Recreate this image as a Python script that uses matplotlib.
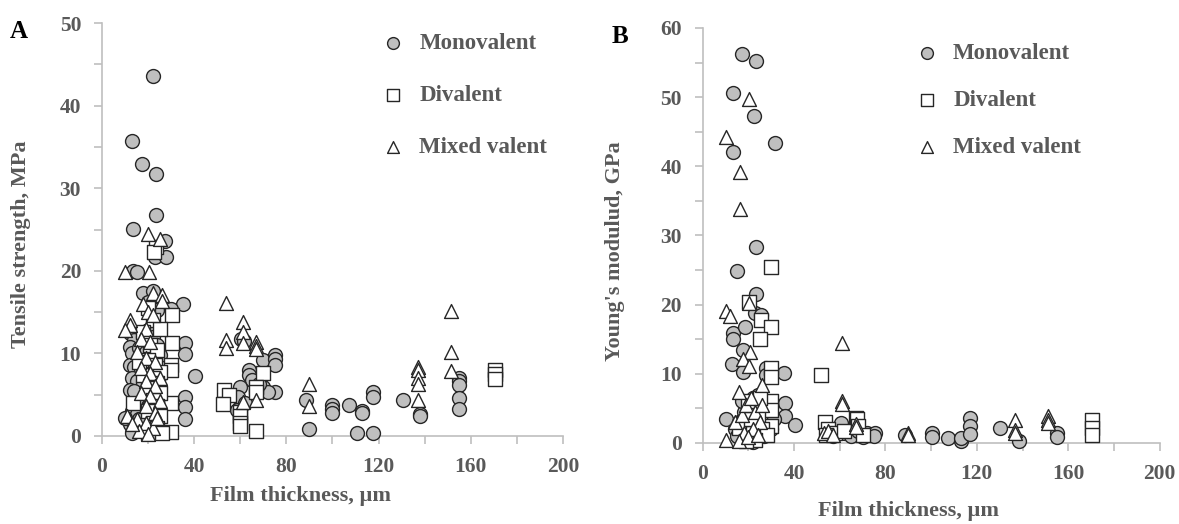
"""Film thickness vs tensile strength / Young's modulus, by cation valence"""
import matplotlib
matplotlib.use("Agg")
from matplotlib import pyplot as plt
from matplotlib.ticker import MultipleLocator

plt.rcParams['font.family'] = ['Liberation Serif', 'DejaVu Serif']
plt.rcParams['font.weight'] = 'bold'

# ---- panel A: tensile strength (MPa) ----
mono_a_x = [22, 13, 17.2, 23.4, 23.4, 13.3, 27.3, 23, 27.8, 13.3, 15.2, 17.9, 22, 35.1, 30, 20, 24,
            12, 14, 12, 13, 16, 18, 20, 22, 24, 19, 21, 12, 14, 17, 20, 23, 25, 13, 15, 18, 21, 24,
            12, 14, 19, 22, 25, 16, 20, 23, 13, 15, 18, 21, 24, 12, 14, 17, 20, 13, 16, 10, 25, 22,
            36, 36, 40.3, 36, 36, 36,
            60.3, 61.5, 69.8, 75, 75, 75, 64, 64, 65, 60, 70, 75, 72, 59, 58.5, 67, 62, 68,
            88.5, 90, 100, 100, 100, 107, 110.5, 113, 113, 117.5, 117.5, 117.5, 130.5, 138, 138,
            155, 155, 155, 155, 155]
mono_a_y = [43.6, 35.7, 32.9, 31.7, 26.8, 25.1, 23.6, 21.7, 21.7, 20.0, 19.8, 17.3, 17.5, 16.0, 15.4, 16.2, 15.2,
            12.5, 11.6, 10.8, 10.0, 10.6, 12.0, 12.8, 12.0, 11.0, 10.2, 9.5, 8.6, 8.4, 8.0, 7.8, 8.2, 7.4, 7.0, 6.6, 6.4, 6.2, 6.0,
            5.6, 5.4, 5.0, 4.8, 4.4, 4.0, 3.6, 3.2, 3.0, 2.6, 2.2, 2.0, 1.8, 1.5, 1.2, 0.8, 0.5, 0.4, 2.0, 2.2, 9.8, 5.8,
            11.3, 9.9, 7.3, 4.7, 3.5, 2.0,
            11.7, 11.5, 9.2, 9.8, 9.3, 8.6, 8.0, 7.4, 6.8, 5.9, 5.9, 5.3, 5.3, 4.7, 3.1, 5.6, 4.0, 6.3,
            4.4, 0.9, 3.7, 3.3, 2.8, 3.7, 0.4, 3.0, 2.8, 5.3, 4.7, 0.3, 4.3, 2.6, 2.4,
            7.0, 6.6, 6.2, 4.6, 3.3]

div_a_x = [23.4, 22.5, 30.3, 30.3, 30, 30, 30, 30, 13.5, 20, 22, 25, 18, 21, 24, 20, 23, 25, 22, 24,
           20, 25, 22, 24, 20, 25, 22, 24, 20, 26, 18, 16,
           53, 55, 52.5, 60, 60, 60, 60, 67, 70, 67, 67,
           170.5, 170.5, 170.5]
div_a_y = [22.9, 22.3, 14.6, 11.2, 8.6, 8.0, 4.0, 0.5, 4.0, 15.5, 14.0, 13.0, 12.6, 11.0, 10.4, 9.2, 8.6, 7.8, 7.0, 6.4,
           5.8, 5.2, 4.4, 3.6, 3.0, 2.4, 1.6, 1.0, 0.4, 0.3, 7.4, 9.0,
           5.6, 5.0, 3.9, 2.9, 2.4, 1.6, 1.2, 0.6, 7.6, 5.9, 5.3,
           8.0, 7.5, 6.9]

mix_a_x = [20, 25, 10, 20.5, 22, 26, 12, 12, 10, 18, 20, 22, 19, 17, 21, 15, 19, 23, 17, 21, 25, 19, 23,
           17, 21, 25, 19, 23, 11, 15, 19, 22, 16, 20, 24, 13, 26,
           54, 61, 61, 54, 54, 61, 67, 67, 67, 61, 67, 90, 90,
           137, 137, 137, 137, 137, 151.5, 151.5, 151.5]
mix_a_y = [24.4, 23.9, 19.9, 19.9, 17.3, 17.1, 14.0, 13.4, 12.8, 16.0, 15.0, 14.6, 13.0, 11.8, 11.4, 10.2, 9.4, 9.0, 8.2, 7.6, 7.0, 6.6, 6.0,
           5.2, 4.8, 4.2, 3.6, 2.8, 2.4, 2.0, 1.6, 1.0, 0.6, 0.2, 2.2, 1.4, 16.4,
           16.1, 13.8, 12.6, 11.6, 10.6, 11.2, 11.4, 10.9, 10.5, 4.1, 4.4, 6.3, 3.6,
           8.4, 8.0, 7.0, 6.3, 4.3, 15.1, 10.2, 7.9]

# ---- panel B: Young's modulus (GPa) ----
mono_b_x = [17.2, 23.2, 13.3, 22.3, 31.5, 13.3, 23.2, 15.2, 23.2, 22.8, 25.7, 13.3, 13.3, 18.4, 17.5, 13,
            17.6, 27.9, 27.9, 35.4, 35.9, 35.9, 40.3, 10, 60.7,
            14, 16, 18, 20, 22, 24, 26, 28, 30, 15, 19, 21, 23, 25, 27, 20, 22, 17, 24, 29, 31,
            55, 57, 62, 65, 68, 70, 72, 75.3, 75,
            88.4, 100.5, 100.5, 107.4, 113.2, 113.2, 117.2, 117.2, 117.2, 130.3, 138.3, 155, 155]
mono_b_y = [56.3, 55.2, 50.6, 47.3, 43.4, 42.1, 28.3, 24.9, 21.5, 18.8, 18.5, 15.9, 15.1, 16.8, 13.4, 11.4,
            10.2, 10.8, 9.8, 10.1, 5.8, 3.9, 2.6, 3.5, 2.9,
            2.0, 3.0, 4.5, 5.5, 6.5, 5.0, 4.0, 3.0, 2.0, 1.0, 1.5, 2.5, 3.5, 2.0, 1.0, 0.5, 0.2, 6.0, 7.0, 5.5, 3.5,
            1.5, 1.0, 1.5, 1.0, 1.8, 0.8, 1.5, 1.5, 1.0,
            1.2, 1.4, 0.9, 0.7, 0.3, 0.7, 3.6, 2.5, 1.3, 2.1, 0.3, 1.4, 0.8]

div_b_x = [30, 20.3, 25.7, 30, 25, 30, 30, 30, 30, 30, 52, 53.4, 67, 67.4,
           20, 22, 24, 18, 26, 28, 20, 23, 16, 21, 25, 19,
           55, 58, 62, 68, 70, 54,
           170.4, 170.4, 170.4]
div_b_y = [25.4, 20.4, 17.8, 16.8, 15.1, 10.8, 9.5, 6.0, 4.7, 2.5, 9.8, 3.1, 3.6, 3.5,
           6.0, 5.0, 4.0, 3.0, 2.0, 1.2, 1.5, 0.5, 2.2, 3.5, 6.5, 0.3,
           2.0, 1.5, 1.8, 2.5, 1.2, 1.2,
           3.3, 2.1, 1.1]

mix_b_x = [20.3, 10, 16.3, 16.3, 10, 12.1, 20.3, 20.6, 17.6, 20.3, 26, 15.9, 61.1, 61.1, 61.1, 10,
           67, 67, 89.7, 89.7, 136.8, 136.8, 136.8, 151, 151, 151,
           14, 17, 19, 21, 23, 25, 18, 22, 26, 16, 20, 24, 53, 55, 57]
mix_b_y = [49.7, 44.2, 39.2, 33.8, 19.1, 18.4, 20.3, 13.2, 12.2, 11.1, 8.4, 7.4, 14.5, 6.0, 5.6, 0.4,
           2.8, 2.3, 1.4, 1.1, 3.3, 1.9, 1.5, 3.9, 3.3, 2.9,
           3.0, 4.0, 5.5, 6.5, 4.5, 3.0, 1.5, 2.0, 5.5, 0.3, 0.8, 1.2, 1.5, 1.8, 1.2]

labels = ['Monovalent', 'Divalent', 'Mixed valent']
text_grey = '#595959'
axis_grey = '#BFBFBF'


def draw_panel(ax, mono, div, mix, ymax, ylabel, letter, leg_xy, leg_gap, xlab_xy, ylab_xy):
    """one scatter panel in the journal figure style"""
    ax.scatter(mono[0], mono[1], s=100, marker='o', facecolor='#BFBFBF', edgecolor='#262626',
               linewidth=1.0, clip_on=False, label=labels[0], zorder=3)
    ax.scatter(div[0], div[1], s=100, marker='s', facecolor='white', edgecolor='#262626',
               linewidth=1.0, clip_on=False, label=labels[1], zorder=4)
    ax.scatter(mix[0], mix[1], s=100, marker='^', facecolor='white', edgecolor='#262626',
               linewidth=1.0, clip_on=False, label=labels[2], zorder=5)

    ax.set_xlim(0, 200)
    ax.set_ylim(0, ymax)
    ax.xaxis.set_major_locator(MultipleLocator(40))
    ax.xaxis.set_minor_locator(MultipleLocator(20))
    ax.yaxis.set_major_locator(MultipleLocator(10))
    ax.yaxis.set_minor_locator(MultipleLocator(5))

    for side in ['top', 'right']:
        ax.spines[side].set_visible(False)
    for side in ['left', 'bottom']:
        ax.spines[side].set_color(axis_grey)
        ax.spines[side].set_linewidth(1.2)
    ax.tick_params(which='both', direction='out', color=axis_grey, width=1.2, length=6,
                   labelcolor=text_grey, labelsize=15.5)
    ax.tick_params(axis='x', which='both', pad=9)
    ax.tick_params(axis='y', which='both', pad=9)

    ax.set_xlabel('Film thickness, µm', fontsize=16, fontweight='bold', color=text_grey)
    ax.xaxis.set_label_coords(*xlab_xy)
    ax.set_ylabel(ylabel, fontsize=16, fontweight='bold', color=text_grey)
    ax.yaxis.set_label_coords(*ylab_xy)
    ax.text(-0.2, 0.98, letter, transform=ax.transAxes, fontsize=18, color='black',
            fontweight='bold', va='center', ha='left')

    leg = ax.legend(loc='upper left', bbox_to_anchor=leg_xy, frameon=False,
                    labelspacing=leg_gap, handletextpad=0.15, markerscale=0.85,
                    prop={'size': 16.5, 'weight': 'bold'})
    for t in leg.get_texts():
        t.set_color(text_grey)


fig = plt.figure(figsize=(11.79, 5.24), dpi=100)
ax1 = fig.add_axes([0.0865, 0.168, 0.391, 0.788])
ax2 = fig.add_axes([0.596, 0.1546, 0.3876, 0.792])

draw_panel(ax1, (mono_a_x, mono_a_y), (div_a_x, div_a_y), (mix_a_x, mix_a_y),
           50, 'Tensile strength, MPa', 'A', (0.537, 1.025), 1.35, (0.43, -0.12), (-0.155, 0.465))
draw_panel(ax2, (mono_b_x, mono_b_y), (div_b_x, div_b_y), (mix_b_x, mix_b_y),
           60, "Young's modulud, GPa", 'B', (0.395, 1.013), 1.12, (0.45, -0.14), (-0.17, 0.463))

plt.savefig("out.png", dpi=100)
plt.close()
